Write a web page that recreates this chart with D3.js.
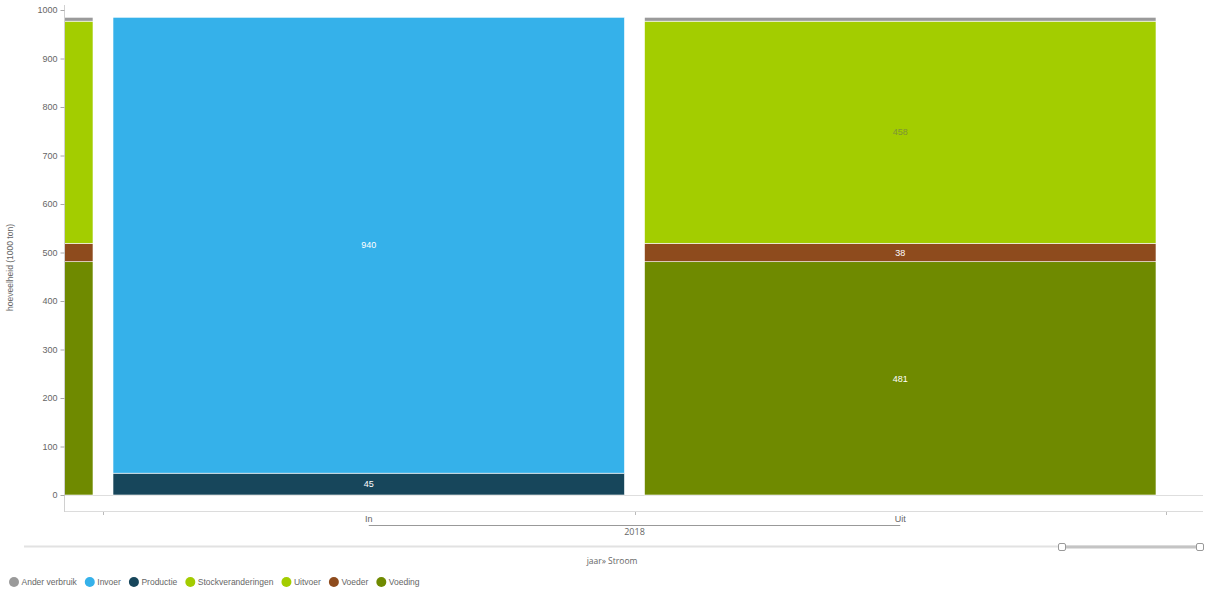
<!DOCTYPE html>
<html>
<head>
<meta charset="utf-8">
<script src="https://cdn.jsdelivr.net/npm/d3@7"></script>
<style>
  body { margin: 0; background: #fff; }
  text { font-family: "Liberation Sans", Arial, sans-serif; }
</style>
</head>
<body>
<div id="chart"></div>
<script>
const width = 1205;
const height = 597;

// bars: year|stream (2017 Uit is only partly visible at the left edge)
const bars = ['2017|Uit', '2018|In', '2018|Uit'];
const streams = ['Uit', 'In', 'Uit'];
const years = ['2017', '2018', '2018'];

const series = ['Ander verbruik', 'Invoer', 'Productie', 'Stockveranderingen', 'Uitvoer', 'Voeder', 'Voeding'];
const colors = ['#9a9a9a', '#35b1ea', '#17465b', '#a3cc00', '#a3cd00', '#8e4b1d', '#6f8a00'];
// stacking order, bottom to top
const stackOrder = ['Productie', 'Invoer', 'Voeding', 'Voeder', 'Stockveranderingen', 'Uitvoer', 'Ander verbruik'];

// values per bar (1000 ton)
const anderVerbruik = [8, 0, 8];
const invoer = [0, 940, 0];
const productie = [0, 45, 0];
const stockveranderingen = [0, 0, 0];
const uitvoer = [458, 0, 458];
const voeder = [38, 0, 38];
const voeding = [481, 0, 481];

const yTicks = [0, 100, 200, 300, 400, 500, 600, 700, 800, 900, 1000];

const valuesBySeries = {
  'Ander verbruik': anderVerbruik,
  'Invoer': invoer,
  'Productie': productie,
  'Stockveranderingen': stockveranderingen,
  'Uitvoer': uitvoer,
  'Voeder': voeder,
  'Voeding': voeding,
};

const table = bars.map((b, i) => {
  const row = { key: b };
  series.forEach(s => row[s] = valuesBySeries[s][i]);
  return row;
});

const color = d3.scaleOrdinal().domain(series).range(colors);

const svg = d3.select('#chart').append('svg')
  .attr('width', width)
  .attr('height', height);

const plot = { left: 65, right: 1203, top: 5, bottom: 495, axisBottom: 511 };

// zoomed band scale: the view starts inside the 2017 band
const step = 531.5;
const xScale = d3.scaleBand()
  .domain(bars)
  .range([103 - step, 103 + 2 * step])
  .paddingInner(20 / step)
  .paddingOuter(10 / step);

const yScale = d3.scaleLinear()
  .domain([0, 1000])
  .range([plot.bottom, 10]);

const center = d => xScale(d.data.key) + xScale.bandwidth() / 2;

svg.append('defs').append('clipPath')
  .attr('id', 'clip')
  .append('rect')
  .attr('x', plot.left)
  .attr('y', 0)
  .attr('width', plot.right - plot.left)
  .attr('height', plot.axisBottom);

// baseline and lower frame
svg.append('line')
  .attr('x1', plot.left).attr('x2', plot.right)
  .attr('y1', plot.bottom + 0.5).attr('y2', plot.bottom + 0.5)
  .attr('stroke', '#dedede');
svg.append('line')
  .attr('x1', plot.left).attr('x2', plot.right)
  .attr('y1', plot.axisBottom + 0.5).attr('y2', plot.axisBottom + 0.5)
  .attr('stroke', '#dcdcdc');

// stacked bars
const stacked = d3.stack().keys(stackOrder)(table);
const barsG = svg.append('g').attr('clip-path', 'url(#clip)');

stacked.forEach(layer => {
  barsG.append('g')
    .selectAll('rect')
    .data(layer.filter(d => d[1] - d[0] > 0))
    .join('rect')
    .attr('x', d => xScale(d.data.key))
    .attr('width', xScale.bandwidth())
    .attr('y', d => yScale(d[1]))
    .attr('height', d => yScale(d[0]) - yScale(d[1]))
    .attr('fill', color(layer.key))
    .attr('stroke', '#fff')
    .attr('stroke-width', 0.6);

  // labels only for segments tall enough and whose centre is in view
  svg.append('g')
    .selectAll('text')
    .data(layer.filter(d => yScale(d[0]) - yScale(d[1]) > 12 && center(d) > plot.left))
    .join('text')
    .attr('x', center)
    .attr('y', d => (yScale(d[0]) + yScale(d[1])) / 2)
    .attr('dy', '0.35em')
    .attr('text-anchor', 'middle')
    .attr('font-size', 9)
    .attr('fill', layer.key === 'Uitvoer' || layer.key === 'Stockveranderingen' ? '#7d9436' : '#fff')
    .text(d => d[1] - d[0]);
});

// y axis
const yAxis = svg.append('g')
  .attr('transform', `translate(${plot.left - 0.5},0)`)
  .call(d3.axisLeft(yScale).tickValues(yTicks).tickFormat(d3.format('d'))
    .tickSize(4).tickSizeOuter(0).tickPadding(3));
yAxis.select('.domain').attr('stroke', '#d0d0d0')
  .attr('d', `M0,${plot.top}V${plot.axisBottom + 1}`);
yAxis.selectAll('.tick line').attr('stroke', '#aaa');
yAxis.selectAll('.tick text').attr('fill', '#666').attr('font-size', 9)
  .style('font-family', '"Liberation Sans", Arial, sans-serif');

svg.append('text')
  .attr('transform', `translate(13,${(yScale(0) + yScale(1000)) / 2 + 15}) rotate(-90)`)
  .attr('text-anchor', 'middle')
  .attr('font-size', 8.5)
  .attr('fill', '#666')
  .text('hoeveelheid (1000 ton)');

// x axis: band boundaries as ticks
const half = xScale.step() * xScale.paddingInner() / 2;
const boundaries = bars.map(b => xScale(b) - half).concat([xScale(bars[bars.length - 1]) + xScale.bandwidth() + half])
  .filter(x => x >= plot.left && x <= plot.right);

svg.append('g').selectAll('line')
  .data(boundaries)
  .join('line')
  .attr('x1', d => Math.round(d) + 0.5).attr('x2', d => Math.round(d) + 0.5)
  .attr('y1', plot.axisBottom + 1).attr('y2', plot.axisBottom + 4)
  .attr('stroke', '#bbb');

const visibleBars = bars.map((b, i) => ({ key: b, stream: streams[i], year: years[i] }))
  .filter(d => xScale(d.key) + xScale.bandwidth() / 2 > plot.left);

svg.append('g').selectAll('text')
  .data(visibleBars)
  .join('text')
  .attr('x', d => xScale(d.key) + xScale.bandwidth() / 2)
  .attr('y', 522)
  .attr('text-anchor', 'middle')
  .attr('font-size', 9)
  .attr('fill', '#666')
  .text(d => d.stream);

// year group line
const groups = d3.groups(visibleBars, d => d.year);
groups.forEach(([year, items]) => {
  const xs = items.map(d => xScale(d.key) + xScale.bandwidth() / 2);
  const x0 = d3.min(xs), x1 = d3.max(xs);
  svg.append('line')
    .attr('x1', x0).attr('x2', x1)
    .attr('y1', 525.5).attr('y2', 525.5)
    .attr('stroke', '#999');
  svg.append('text')
    .attr('x', (x0 + x1) / 2)
    .attr('y', 535)
    .attr('text-anchor', 'middle')
    .attr('font-size', 9)
    .attr('fill', '#666')
    .style('font-family', '"Open Sans", sans-serif')
    .text(year);
});

// range slider
svg.append('line')
  .attr('x1', 24).attr('x2', 1201)
  .attr('y1', 546.5).attr('y2', 546.5)
  .attr('stroke', '#e2e2e2').attr('stroke-width', 2);
svg.append('line')
  .attr('x1', 1062).attr('x2', 1200)
  .attr('y1', 547).attr('y2', 547)
  .attr('stroke', '#c4c4c4').attr('stroke-width', 3);
svg.append('g').selectAll('rect')
  .data([1062, 1200])
  .join('rect')
  .attr('x', d => d - 3.5).attr('y', 543.5)
  .attr('width', 7).attr('height', 7)
  .attr('rx', 1.5)
  .attr('fill', '#fff')
  .attr('stroke', '#999');

svg.append('text')
  .attr('x', 612)
  .attr('y', 564)
  .attr('text-anchor', 'middle')
  .attr('font-size', 8.5)
  .attr('fill', '#666')
  .style('font-family', '"Open Sans", sans-serif')
  .text('jaar» Stroom');

// legend
const legend = svg.append('g').attr('transform', 'translate(14,582)');
let lx = 0;
series.forEach(s => {
  const item = legend.append('g').attr('transform', `translate(${lx},0)`);
  item.append('circle').attr('r', 5).attr('fill', color(s));
  const t = item.append('text')
    .attr('x', 7.5)
    .attr('dy', '0.35em')
    .attr('font-size', 8.5)
    .attr('fill', '#666')
    .text(s);
  lx += 7.5 + t.node().getComputedTextLength() + 13;
});
</script>
</body>
</html>
